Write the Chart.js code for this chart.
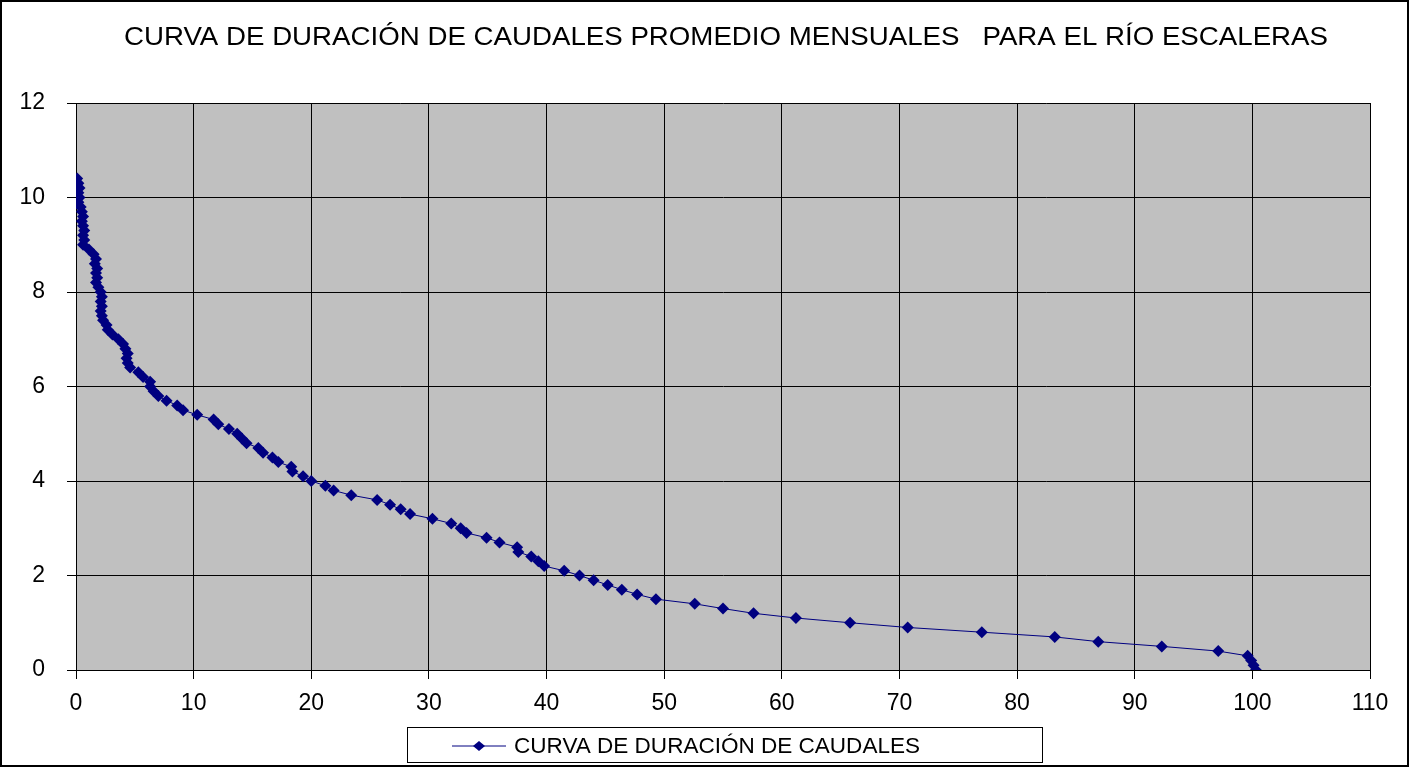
<!DOCTYPE html>
<html>
<head>
<meta charset="utf-8">
<script src="https://cdn.jsdelivr.net/npm/chart.js@4.4.0/dist/chart.umd.min.js"></script>
<style>
  html, body { margin: 0; padding: 0; background: #fff; }
  #wrap { position: relative; width: 1410px; height: 770px; }
</style>
</head>
<body>
<div id="wrap"><canvas id="flowChart" width="1410" height="770"></canvas></div>
<script>
// Caudal (m3/s) vs % del tiempo igualado o excedido
const caudales = [
  10.4, 10.3, 10.2, 10.1, 10.0, 9.9, 9.8, 9.7, 9.6, 9.5, 9.4, 9.3, 9.2, 9.1, 9.0,
  8.9, 8.8, 8.7, 8.6, 8.5, 8.4, 8.3, 8.2, 8.1, 8.0, 7.9, 7.8, 7.7, 7.6, 7.5,
  7.4, 7.3, 7.2, 7.1, 7.0, 6.9, 6.8, 6.7, 6.6, 6.5, 6.4, 6.3, 6.2, 6.1, 6.0,
  5.9, 5.8, 5.7, 5.6, 5.5, 5.4, 5.3, 5.2, 5.1, 5.0, 4.9, 4.8, 4.7, 4.6, 4.5,
  4.4, 4.3, 4.2, 4.1, 4.0, 3.9, 3.8, 3.7, 3.6, 3.5, 3.4, 3.3, 3.2, 3.1, 3.0,
  2.9, 2.8, 2.7, 2.6, 2.5, 2.4, 2.3, 2.2, 2.1, 2.0, 1.9, 1.8, 1.7, 1.6, 1.5,
  1.4, 1.3, 1.2, 1.1, 1.0, 0.9, 0.8, 0.7, 0.6, 0.5, 0.4, 0.3, 0.2, 0.1, 0.0
];
const porcentajes = [
  0.1, 0.2, 0.3, 0.2, 0.3, 0.2, 0.4, 0.5, 0.6, 0.5, 0.6, 0.7, 0.6, 0.7, 0.6,
  1.1, 1.5, 1.7, 1.6, 1.8, 1.7, 1.8, 1.7, 1.9, 2.1, 2.2, 2.1, 2.2, 2.1, 2.2,
  2.3, 2.6, 2.7, 3.1, 3.6, 4.0, 4.2, 4.4, 4.3, 4.4, 4.6, 5.3, 5.7, 6.3, 6.3,
  6.6, 7.0, 7.7, 8.6, 9.1, 10.3, 11.7, 12.1, 13.0, 13.7, 14.1, 14.5, 15.5, 15.9, 16.7,
  17.2, 18.3, 18.4, 19.3, 20.0, 21.2, 21.9, 23.4, 25.6, 26.7, 27.6, 28.4, 30.3, 31.9, 32.7,
  33.2, 34.9, 36.0, 37.5, 37.6, 38.7, 39.3, 39.8, 41.5, 42.8, 44.0, 45.2, 46.4, 47.7, 49.3,
  52.6, 55.0, 57.6, 61.2, 65.8, 70.7, 77.0, 83.2, 86.9, 92.3, 97.1, 99.6, 99.9, 100.1, 100.3
];
const xTicks = [0, 10, 20, 30, 40, 50, 60, 70, 80, 90, 100, 110];
const yTicks = [0, 2, 4, 6, 8, 10, 12];

const titulo = 'CURVA DE DURACIÓN DE CAUDALES PROMEDIO MENSUALES   PARA EL RÍO ESCALERAS';
const serieNombre = 'CURVA DE DURACIÓN DE CAUDALES';
const navy = '#000080';
const FONT = '"Liberation Sans", Arial, sans-serif';

const puntos = porcentajes.map((p, i) => ({ x: p, y: caudales[i] }));

// text stretched sideways to a given width (the original looks widened)
function wideText(ctx, txt, x, y, w, align) {
  const m = ctx.measureText(txt).width;
  const k = w / m;
  ctx.save();
  ctx.translate(x, y);
  ctx.scale(k, 1);
  ctx.textAlign = align;
  ctx.fillText(txt, 0, 0);
  ctx.restore();
}

// background, frame, title and boxed legend
const decor = {
  id: 'decor',
  beforeDraw(chart) {
    const ctx = chart.ctx, a = chart.chartArea;
    ctx.save();
    ctx.fillStyle = '#fff';
    ctx.fillRect(0, 0, chart.width, chart.height);
    ctx.fillStyle = '#c0c0c0';
    ctx.fillRect(a.left, a.top, a.right - a.left, a.bottom - a.top);
    ctx.restore();
  },
  afterDraw(chart) {
    const ctx = chart.ctx;
    ctx.save();
    // outer frame
    ctx.strokeStyle = '#000';
    ctx.lineWidth = 2;
    ctx.strokeRect(1, 1, 1407, 765);
    // title
    ctx.fillStyle = '#000';
    ctx.font = '26px ' + FONT;
    ctx.textBaseline = 'middle';
    wideText(ctx, titulo, 726, 38, 1204, 'center');
    // legend box
    ctx.lineWidth = 1;
    ctx.strokeStyle = '#000';
    ctx.strokeRect(407.5, 727.5, 635, 35);
    ctx.strokeStyle = navy;
    ctx.beginPath();
    ctx.moveTo(452, 746);
    ctx.lineTo(506, 746);
    ctx.stroke();
    ctx.fillStyle = navy;
    ctx.beginPath();
    ctx.moveTo(479, 741); ctx.lineTo(485, 746); ctx.lineTo(479, 751); ctx.lineTo(473, 746);
    ctx.closePath();
    ctx.fill();
    ctx.fillStyle = '#000';
    ctx.font = '22px ' + FONT;
    wideText(ctx, serieNombre, 514, 747, 406, 'left');
    ctx.restore();
  }
};

new Chart(document.getElementById('flowChart').getContext('2d'), {
  type: 'line',
  data: {
    datasets: [{
      label: serieNombre,
      data: puntos,
      borderColor: navy,
      borderWidth: 1,
      backgroundColor: navy,
      pointStyle: 'rectRot',
      pointRadius: 6,
      pointBorderWidth: 0,
      tension: 0,
      fill: false
    }]
  },
  options: {
    responsive: false,
    animation: false,
    layout: { padding: { left: 0, right: 40, top: 103, bottom: 0 } },
    plugins: { legend: { display: false }, title: { display: false }, tooltip: { enabled: false } },
    scales: {
      x: {
        type: 'linear',
        min: 0, max: 110,
        afterBuildTicks: s => { s.ticks = xTicks.map(v => ({ value: v })); },
        afterFit: s => { s.height = 100; },
        ticks: { color: '#000', font: { family: FONT, size: 23 }, padding: 11, maxRotation: 0 },
        grid: { color: '#000', lineWidth: 1, tickLength: 9, drawTicks: true },
        border: { color: '#000', width: 1 }
      },
      y: {
        type: 'linear',
        min: 0, max: 12,
        afterBuildTicks: s => { s.ticks = yTicks.map(v => ({ value: v })); },
        afterFit: s => { s.width = 76; },
        ticks: { color: '#000', font: { family: FONT, size: 23 }, padding: 22 },
        grid: { color: '#000', lineWidth: 1, tickLength: 9, drawTicks: true },
        border: { color: '#000', width: 1 }
      }
    }
  },
  plugins: [decor]
});
</script>
</body>
</html>
